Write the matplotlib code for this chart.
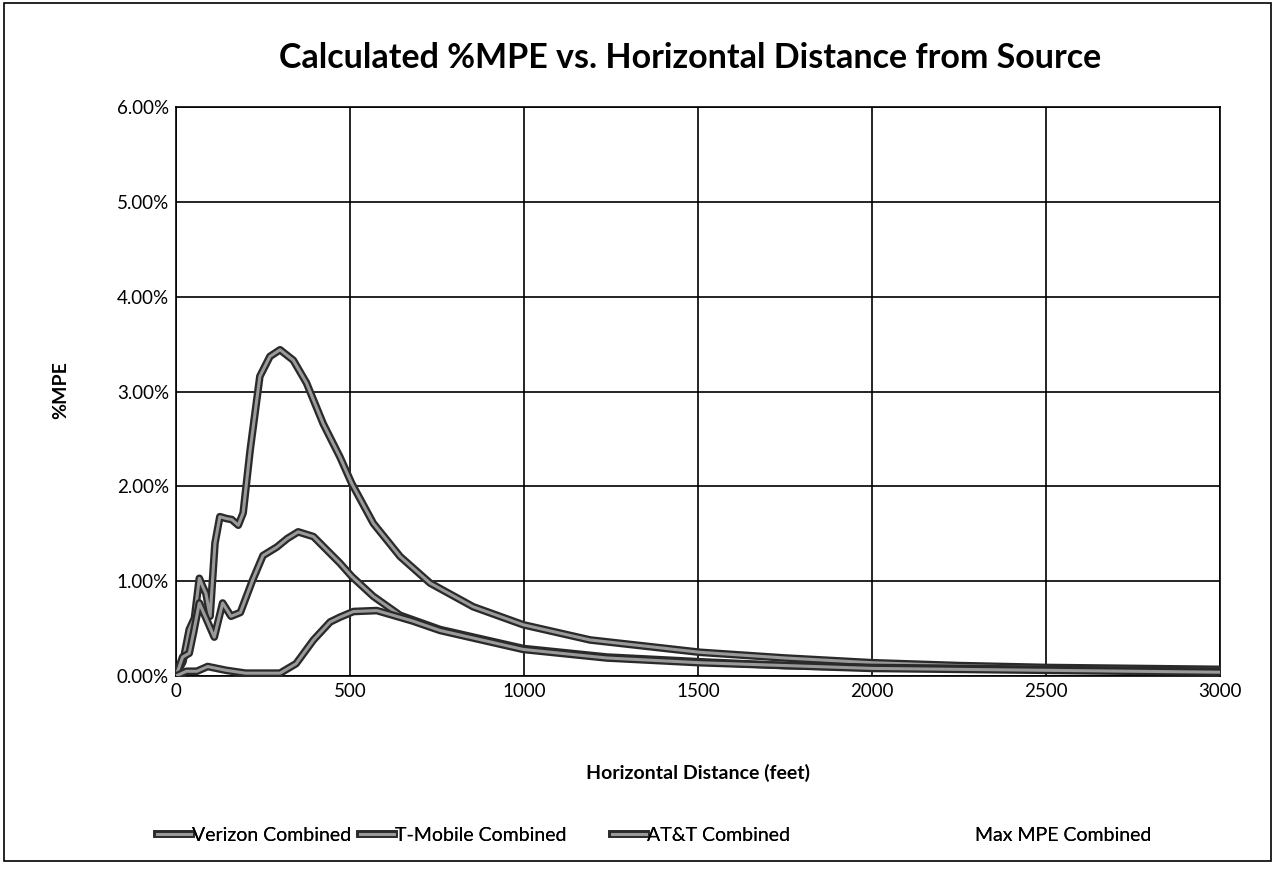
import matplotlib
matplotlib.use("Agg")
import matplotlib.pyplot as plt
import matplotlib.patheffects as pe
from matplotlib.patches import Rectangle
from matplotlib.ticker import FuncFormatter

title = "Calculated %MPE vs. Horizontal Distance from Source"
xlabel = "Horizontal Distance (feet)"
ylabel = "%MPE"

verizon_ft = [0, 10, 20, 38, 53, 67, 76, 86, 98, 112, 126, 145, 160, 179, 193, 213, 241, 270, 299,
              337, 375, 423, 471, 505, 567, 644, 730, 854, 998, 1190, 1506, 1750, 2000, 2250, 2500,
              2750, 3000]
verizon_pct = [0, 0.08, 0.15, 0.49, 0.61, 1.03, 0.95, 0.87, 0.63, 1.40, 1.68, 1.66, 1.65, 1.59, 1.72, 2.38,
               3.16, 3.37, 3.44, 3.33, 3.09, 2.66, 2.31, 2.03, 1.61, 1.26, 0.98, 0.73, 0.54, 0.38, 0.25,
               0.19, 0.14, 0.11, 0.09, 0.08, 0.07]

tmobile_ft = [0, 19, 38, 50, 67, 85, 110, 134, 158, 185, 220, 250, 290, 320, 351, 395, 471,
              505, 567, 644, 759, 998, 1238, 1506, 1750, 2000, 2500, 3000]
tmobile_pct = [0, 0.20, 0.24, 0.45, 0.77, 0.62, 0.41, 0.77, 0.63, 0.67, 1.01, 1.27, 1.36, 1.45, 1.52, 1.47,
               1.19, 1.05, 0.84, 0.64, 0.49, 0.29, 0.20, 0.15, 0.11, 0.09, 0.07, 0.05]

att_ft = [0, 30, 60, 91, 144, 200, 299, 345, 395, 443, 471, 510, 577, 624, 680, 759, 998,
          1238, 1506, 2000, 2500, 3000]
att_pct = [0, 0.05, 0.05, 0.10, 0.06, 0.03, 0.03, 0.13, 0.38, 0.57, 0.62, 0.68, 0.69, 0.64, 0.58, 0.48, 0.28,
           0.19, 0.14, 0.08, 0.06, 0.04]

series_names = ["Verizon Combined", "T-Mobile Combined", "AT&T Combined", "Max MPE Combined"]
x_ticks = [0, 500, 1000, 1500, 2000, 2500, 3000]
y_ticks = [0, 1, 2, 3, 4, 5, 6]

font = "Lato"
plt.rcParams['font.family'] = [font, 'DejaVu Sans']

W, H = 1275, 871
fig = plt.figure(figsize=(W / 100, H / 100), dpi=100)
ax = fig.add_axes([176 / W, 1 - 676 / H, (1220 - 176) / W, (676 - 107) / H])

effects = [pe.Stroke(linewidth=5.5, foreground='#2a2a2a'), pe.Normal()]
lines = []
for xs, ys, name in [(verizon_ft, verizon_pct, series_names[0]),
                     (tmobile_ft, tmobile_pct, series_names[1]),
                     (att_ft, att_pct, series_names[2])]:
    ln, = ax.plot(xs, ys, color='#9a9a9a', lw=2.2, label=name, path_effects=effects,
                  solid_joinstyle='round', zorder=3)
    lines.append(ln)
ln, = ax.plot([], [], color='white', lw=0, label=series_names[3])
lines.append(ln)

ax.set_xlim(0, 3000)
ax.set_ylim(0, 6)
ax.set_xticks(x_ticks)
ax.set_yticks(y_ticks)
ax.yaxis.set_major_formatter(FuncFormatter(lambda v, p: f"{v:.2f}%"))
ax.grid(True, color='black', lw=1.2)
ax.set_axisbelow(True)
for s in ax.spines.values():
    s.set_color('black')
    s.set_linewidth(1.2)
ax.tick_params(axis='x', length=0, labelsize=13.5, pad=5)
ax.tick_params(axis='y', length=0, labelsize=13.5, pad=5)

ax.set_xlabel(xlabel, fontsize=14, fontweight='bold')
ax.xaxis.set_label_coords(698 / W, 1 - 764 / H, transform=fig.transFigure)
ax.set_ylabel(ylabel, fontsize=14, fontweight='bold')
ax.yaxis.set_label_coords(69 / W, 1 - 390 / H, transform=fig.transFigure)
fig.text(690 / W, 1 - 58 / H, title, ha='center', va='center', fontsize=24.5, fontweight='bold')

legend_x = [157, 360, 612, 940]
for ln, lx in zip(lines, legend_x):
    lg = fig.legend(handles=[ln], loc='center left', bbox_to_anchor=(lx / W, 1 - 835 / H),
                    frameon=False, fontsize=14, handlelength=1.75, handletextpad=0.05,
                    borderpad=0, borderaxespad=0)
    fig.add_artist(lg)

fig.patches.append(Rectangle((0.003, 0.012), 0.994, 0.985, transform=fig.transFigure,
                             fill=False, edgecolor='black', lw=1.2))

fig.savefig("out.png", dpi=100, facecolor='white')
